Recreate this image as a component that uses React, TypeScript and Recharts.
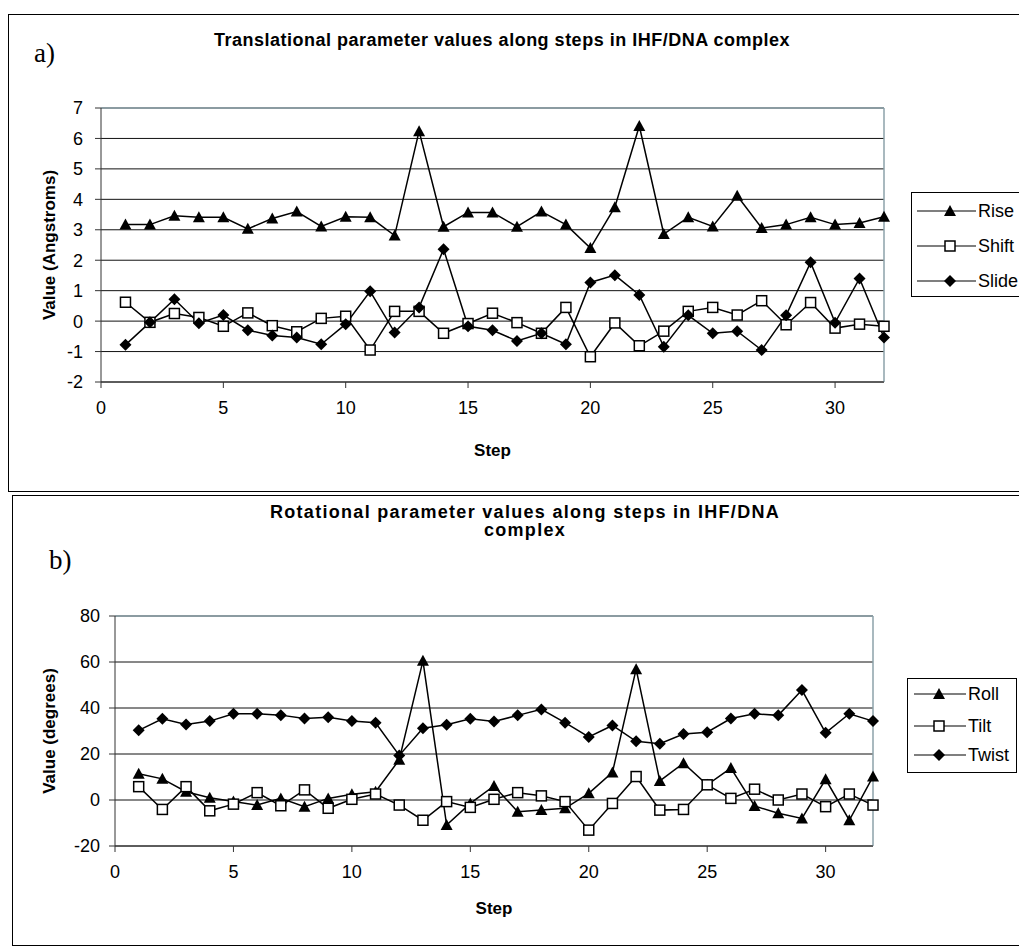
import React from 'react';
import { LineChart, Line, XAxis, YAxis, CartesianGrid, ReferenceLine, Legend } from 'recharts';

const steps = [1, 2, 3, 4, 5, 6, 7, 8, 9, 10, 11, 12, 13, 14, 15, 16, 17, 18, 19, 20, 21, 22, 23, 24, 25, 26, 27, 28, 29, 30, 31, 32];

const rise = [3.17, 3.17, 3.46, 3.41, 3.41, 3.03, 3.37, 3.6, 3.11, 3.43, 3.41, 2.81, 6.24, 3.1, 3.57, 3.57, 3.1, 3.6, 3.17, 2.4, 3.74, 6.41, 2.86, 3.41, 3.11, 4.12, 3.06, 3.17, 3.41, 3.17, 3.22, 3.43];
const shift = [0.62, -0.04, 0.25, 0.12, -0.17, 0.27, -0.15, -0.35, 0.09, 0.16, -0.95, 0.32, 0.32, -0.4, -0.08, 0.26, -0.05, -0.4, 0.45, -1.17, -0.06, -0.81, -0.33, 0.32, 0.45, 0.2, 0.67, -0.12, 0.61, -0.23, -0.1, -0.17];
const slide = [-0.78, -0.04, 0.72, -0.07, 0.2, -0.3, -0.47, -0.54, -0.76, -0.1, 0.98, -0.37, 0.45, 2.36, -0.17, -0.3, -0.65, -0.4, -0.76, 1.27, 1.51, 0.86, -0.84, 0.19, -0.4, -0.33, -0.95, 0.19, 1.93, -0.05, 1.4, -0.54];

const roll = [11.4, 9.2, 3.6, 1.0, -0.7, -2.2, 0.7, -2.9, 0.7, 2.5, 3.6, 17.5, 60.5, -10.9, -1.5, 6.1, -5.1, -4.4, -3.6, 2.9, 12.0, 56.9, 8.3, 16.0, 6.6, 13.9, -2.6, -5.8, -8.0, 9.0, -8.8, 10.2];
const tilt = [5.8, -4.1, 5.8, -4.7, -1.8, 3.2, -2.5, 4.4, -3.6, 0.3, 2.6, -2.2, -8.8, -0.7, -3.2, 0.3, 3.2, 1.8, -0.7, -13.1, -1.5, 10.2, -4.4, -4.1, 6.6, 0.7, 4.7, 0, 2.6, -2.9, 2.6, -2.2];
const twist = [30.3, 35.3, 32.8, 34.3, 37.5, 37.5, 36.9, 35.4, 36.0, 34.3, 33.6, 19.4, 31.2, 32.7, 35.3, 34.1, 36.8, 39.4, 33.6, 27.4, 32.4, 25.5, 24.5, 28.7, 29.5, 35.4, 37.5, 36.8, 47.8, 29.2, 37.5, 34.3];

const stepTicks = [0, 5, 10, 15, 20, 25, 30];
const transTicks = [-2, -1, 0, 1, 2, 3, 4, 5, 6, 7];
const rotTicks = [-20, 0, 20, 40, 60, 80];

const transData = steps.map((s, i) => ({ step: s, Rise: rise[i], Shift: shift[i], Slide: slide[i] }));
const rotData = steps.map((s, i) => ({ step: s, Roll: roll[i], Tilt: tilt[i], Twist: twist[i] }));

const FONT = '"Liberation Sans", Arial, sans-serif';
const BORDER = '#8ca2aa';
const AXIS = '#333';

// marker shapes
function triangle(cx: number, cy: number, key?: string) {
  return <path key={key} d={`M${cx},${cy - 6} L${cx + 6},${cy + 5} L${cx - 6},${cy + 5} Z`} fill="#000" />;
}
function square(cx: number, cy: number, key?: string) {
  return <rect key={key} x={cx - 5} y={cy - 5} width={10} height={10} fill="#fff" stroke="#000" strokeWidth={1.5} />;
}
function diamond(cx: number, cy: number, key?: string) {
  return <path key={key} d={`M${cx},${cy - 6} L${cx + 6},${cy} L${cx},${cy + 6} L${cx - 6},${cy} Z`} fill="#000" />;
}

const markers: Record<string, (cx: number, cy: number, key?: string) => React.ReactElement> = {
  Rise: triangle, Shift: square, Slide: diamond,
  Roll: triangle, Tilt: square, Twist: diamond,
};

const dotFor = (name: string) => (p: any) => markers[name](p.cx, p.cy, `${name}-${p.index}`);

// legend: rows = y centres, line from x0 to x1, marker at mx, text at tx (all relative to box)
function LegendBox({ payload, rows, width, height, x0, x1, mx, tx }: any) {
  return (
    <div style={{ position: 'relative', border: '1px solid #000', width, height, background: '#fff', boxSizing: 'border-box' }}>
      {(payload || []).map((e: any, i: number) => (
        <React.Fragment key={e.value}>
          <svg width={x1} height={16} style={{ position: 'absolute', left: 0, top: rows[i] - 8 }}>
            <line x1={x0} y1={8} x2={x1} y2={8} stroke="#000" strokeWidth={1.2} />
            {markers[e.value](mx, 8)}
          </svg>
          <span style={{ position: 'absolute', left: tx, top: rows[i] - 10, lineHeight: '20px', fontSize: 18, fontFamily: FONT, color: '#000', whiteSpace: 'nowrap' }}>{e.value}</span>
        </React.Fragment>
      ))}
    </div>
  );
}

const tickStyle = { fill: '#000', fontSize: 18, fontFamily: FONT };
const axisTitle = { fill: '#000', fontSize: 17, fontWeight: 'bold', fontFamily: FONT };

export default function App() {
  return (
    <div style={{ position: 'absolute', left: 0, top: 0, width: 1019, height: 946, overflow: 'hidden', background: '#fff', fontFamily: FONT }}>
      <div style={{ position: 'absolute', left: 8, top: 14, width: 1100, height: 476, border: '1px solid #000' }} />
      <div style={{ position: 'absolute', left: 12, top: 495, width: 1100, height: 449, border: '1px solid #000' }} />

      <div style={{ position: 'absolute', left: 34, top: 40, fontFamily: '"Liberation Serif", serif', fontSize: 27, lineHeight: '27px' }}>a)</div>
      <div style={{ position: 'absolute', left: 0, width: 1004, top: 30, textAlign: 'center', fontWeight: 'bold', fontSize: 18, lineHeight: '20px', letterSpacing: 0.5 }}>
        Translational parameter values along steps in IHF/DNA complex
      </div>

      <div style={{ position: 'absolute', left: 49, top: 547, fontFamily: '"Liberation Serif", serif', fontSize: 27, lineHeight: '27px' }}>b)</div>
      <div style={{ position: 'absolute', left: 0, width: 1050, top: 503, textAlign: 'center', fontWeight: 'bold', fontSize: 18, lineHeight: '18px', letterSpacing: 1.3 }}>
        Rotational parameter values along steps in IHF/DNA<br />complex
      </div>

      <div style={{ position: 'absolute', left: 0, top: 0 }}>
        <LineChart width={1019} height={491} data={transData} margin={{ top: 108, right: 135, bottom: 79, left: 41 }} style={{ fontFamily: FONT }}>
          <CartesianGrid vertical={false} stroke="#111" />
          <XAxis dataKey="step" type="number" domain={[0, 32]} ticks={stepTicks} height={30}
            stroke={AXIS} tickSize={6} tickMargin={13} tick={tickStyle}
            label={{ value: 'Step', position: 'bottom', offset: 32, style: axisTitle }} />
          <YAxis type="number" domain={[-2, 7]} ticks={transTicks} width={60} interval={0}
            stroke={AXIS} tickSize={6} tickMargin={12} tick={tickStyle}
            label={{ value: 'Value (Angstroms)', angle: -90, position: 'insideLeft', offset: 8, style: { ...axisTitle, textAnchor: 'middle' } }} />
          <ReferenceLine y={7} stroke={BORDER} strokeWidth={1.5} />
          <ReferenceLine x={32} stroke={BORDER} strokeWidth={1.5} />
          <Legend layout="vertical" align="center" verticalAlign="middle"
            wrapperStyle={{ position: 'absolute', left: 911, top: 192, width: 130 }}
            content={(props: any) => <LegendBox payload={props.payload} rows={[18, 53, 88]} width={130} height={105} x0={5} x1={64} mx={38} tx={66} />} />
          <Line dataKey="Rise" stroke="#000" strokeWidth={1.5} dot={dotFor('Rise')} isAnimationActive={false} />
          <Line dataKey="Shift" stroke="#000" strokeWidth={1.5} dot={dotFor('Shift')} isAnimationActive={false} />
          <Line dataKey="Slide" stroke="#000" strokeWidth={1.5} dot={dotFor('Slide')} isAnimationActive={false} />
        </LineChart>
      </div>

      <div style={{ position: 'absolute', left: 0, top: 491 }}>
        <LineChart width={1019} height={455} data={rotData} margin={{ top: 125, right: 146, bottom: 70, left: 55 }} style={{ fontFamily: FONT }}>
          <CartesianGrid vertical={false} stroke="#111" />
          <XAxis dataKey="step" type="number" domain={[0, 32]} ticks={stepTicks} height={30}
            stroke={AXIS} tickSize={6} tickMargin={13} tick={tickStyle}
            label={{ value: 'Step', position: 'bottom', offset: 26, style: axisTitle }} />
          <YAxis type="number" domain={[-20, 80]} ticks={rotTicks} width={60} interval={0}
            stroke={AXIS} tickSize={6} tickMargin={9} tick={tickStyle}
            label={{ value: 'Value (degrees)', angle: -90, position: 'insideLeft', offset: -6, style: { ...axisTitle, textAnchor: 'middle' } }} />
          <ReferenceLine y={80} stroke={BORDER} strokeWidth={1.5} />
          <ReferenceLine x={32} stroke={BORDER} strokeWidth={1.5} />
          <Legend layout="vertical" align="center" verticalAlign="middle"
            wrapperStyle={{ position: 'absolute', left: 907, top: 187, width: 110 }}
            content={(props: any) => <LegendBox payload={props.payload} rows={[15, 47, 76]} width={110} height={95} x0={6} x1={58} mx={31} tx={60} />} />
          <Line dataKey="Roll" stroke="#000" strokeWidth={1.5} dot={dotFor('Roll')} isAnimationActive={false} />
          <Line dataKey="Tilt" stroke="#000" strokeWidth={1.5} dot={dotFor('Tilt')} isAnimationActive={false} />
          <Line dataKey="Twist" stroke="#000" strokeWidth={1.5} dot={dotFor('Twist')} isAnimationActive={false} />
        </LineChart>
      </div>
    </div>
  );
}
